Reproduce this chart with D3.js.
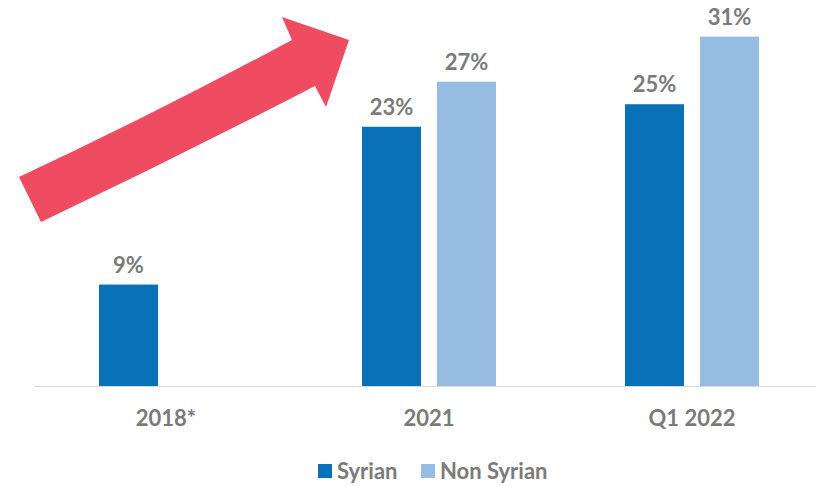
<!DOCTYPE html>
<html>
<head>
<meta charset="utf-8">
<script src="https://cdn.jsdelivr.net/npm/d3@7"></script>
<style>
  body { margin: 0; background: #fff; }
  text { font-family: Lato, "Open Sans", sans-serif; font-weight: bold; fill: #7a7a7a; }
</style>
</head>
<body>
<div id="chart"></div>
<script>
// data
const categories = ['2018*', '2021', 'Q1 2022'];
const series = ['Syrian', 'Non Syrian'];
const syrian = [9, 23, 25];
const nonSyrian = [null, 27, 31];
const colors = ['#0a70b8', '#97bce2'];

const W = 816, H = 486;

const svg = d3.select('#chart')
    .append('svg')
    .attr('width', W)
    .attr('height', H);

const x0 = d3.scaleBand()
    .domain(categories)
    .range([34.5, 823.5]);

const x1 = d3.scaleBand()
    .domain(series)
    .range([64.5, 198.5])
    .paddingInner(0.213);

const y = d3.scaleLinear()
    .domain([0, 31])
    .range([386, 36.6]);

const color = d3.scaleOrdinal().domain(series).range(colors);

const rows = categories.map((c, i) => ({
    cat: c,
    vals: [
        { key: 'Syrian', v: syrian[i] },
        { key: 'Non Syrian', v: nonSyrian[i] }
    ].filter(d => d.v != null)
}));

// baseline
svg.append('line')
    .attr('x1', 34).attr('x2', 816)
    .attr('y1', y(0) + 0.5).attr('y2', y(0) + 0.5)
    .attr('stroke', '#d9d9d9')
    .attr('stroke-width', 1);

const group = svg.append('g')
    .selectAll('g')
    .data(rows)
    .enter().append('g')
    .attr('transform', d => `translate(${x0(d.cat)},0)`);

group.selectAll('rect')
    .data(d => d.vals)
    .enter().append('rect')
    .attr('x', d => x1(d.key))
    .attr('y', d => y(d.v))
    .attr('width', x1.bandwidth())
    .attr('height', d => y(0) - y(d.v))
    .attr('fill', d => color(d.key));

group.selectAll('text.val')
    .data(d => d.vals)
    .enter().append('text')
    .attr('class', 'val')
    .attr('x', d => x1(d.key) + x1.bandwidth() / 2)
    .attr('y', d => y(d.v) - 12)
    .attr('text-anchor', 'middle')
    .style('font-size', '22px')
    .text(d => d.v + '%');

// category labels
svg.append('g')
    .selectAll('text')
    .data(categories)
    .enter().append('text')
    .attr('x', d => x0(d) + x0.bandwidth() / 2)
    .attr('y', 426)
    .attr('text-anchor', 'middle')
    .style('font-size', '22px')
    .text(d => d);

// legend
const legendPos = [318, 421];
const legend = svg.append('g')
    .selectAll('g')
    .data(series)
    .enter().append('g')
    .attr('transform', (d, i) => `translate(${legendPos[i]},0)`);

legend.append('rect')
    .attr('x', 0).attr('y', 464)
    .attr('width', 14).attr('height', 14)
    .attr('fill', d => color(d));

legend.append('text')
    .attr('x', 19).attr('y', 479)
    .style('font-size', '22px')
    .text(d => d);

// the red trend arrow
svg.append('path')
    .attr('d', 'M19,177 Q150,116 292,40 L282,17 L349,40 L326,107 L315,86 Q180,156 41,222 Z')
    .attr('fill', '#ef4c62');
</script>
</body>
</html>
